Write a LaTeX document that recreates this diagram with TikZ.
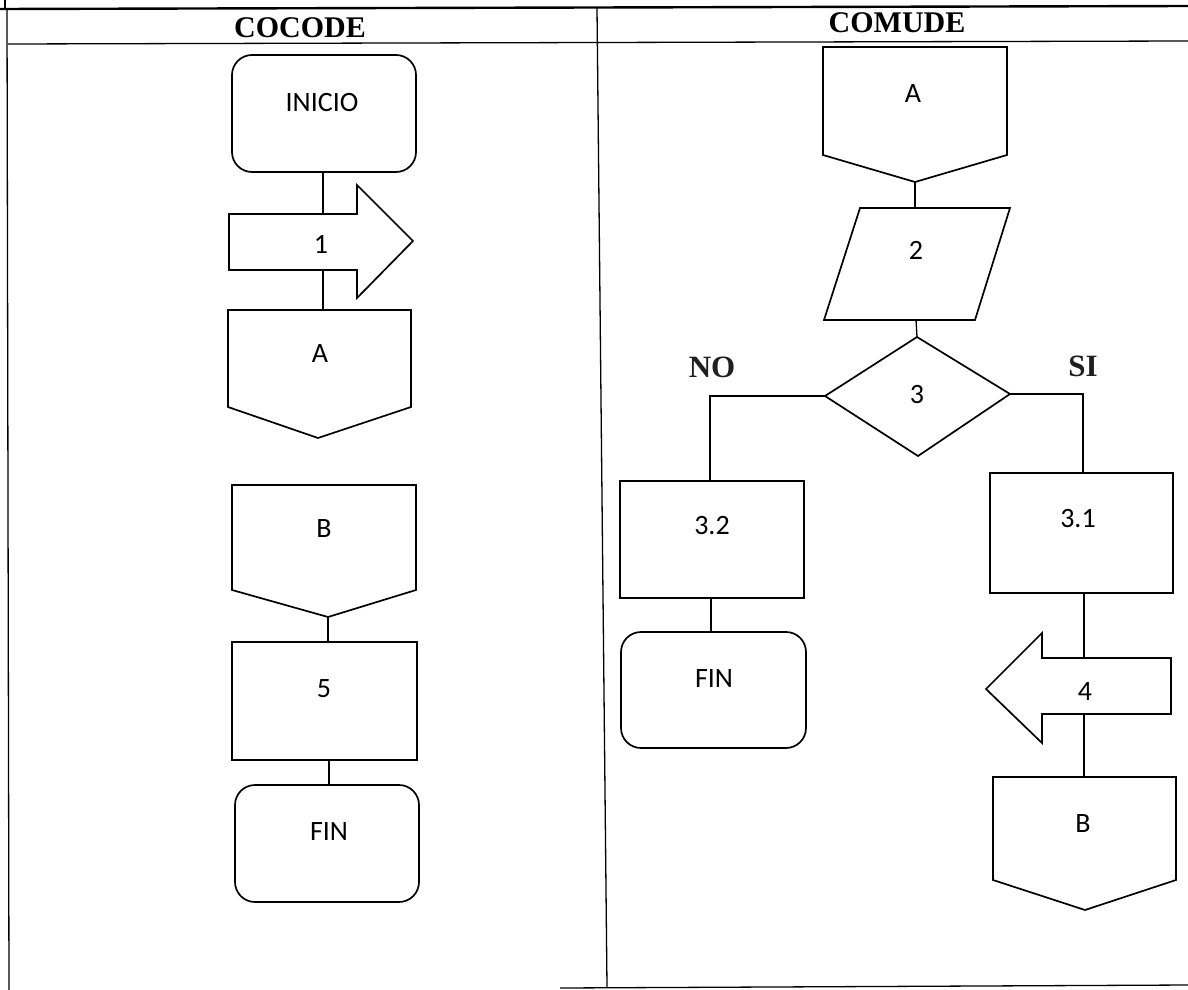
\documentclass[tikz,border=0pt]{standalone}
\usepackage{fontspec}
\setmainfont{Liberation Serif}
\newfontfamily\boxfont{Carlito}
\begin{document}
\begin{tikzpicture}[x=1pt,y=-1pt,
  shp/.style={draw, line width=1.7pt, line join=miter},
  rshp/.style={draw, line width=1.7pt, rounded corners=20pt},
  conn/.style={draw, line width=1.3pt},
  frame/.style={draw, line width=1.3pt},
  lbl/.style={font=\boxfont\fontsize{28}{32}\selectfont, inner sep=0pt},
  head/.style={font=\bfseries\fontsize{30}{34}\selectfont, inner sep=0pt},
  yn/.style={font=\bfseries\fontsize{31}{34}\selectfont, inner sep=0pt, text=black!88},
]
\useasboundingbox (0,0) rectangle (1188,990);
% ---- table frame ----
\draw[line width=2.4pt] (0,9) -- (1188,6);
\draw[frame] (5,0) -- (5,9);
\draw[frame] (7,9) -- (9,990);
\draw[frame] (8,44) -- (1188,41);
\draw[frame] (597,8) -- (607,987);
\draw[frame] (560,988) -- (1188,985);
\node[head] (h1) at (300,28) {COCODE};
\node[head] (h2) at (897,23) {COMUDE};

% ---- COCODE column ----
\draw[rshp] (232,55) rectangle (416,172);
\node[lbl] (inicio) at (322,103) {INICIO};
\coordinate (inicioS) at (323,172);

\draw[shp] (229,214) -- (357,214) -- (357,185) -- (413,241) -- (357,298) -- (357,270) -- (229,270) -- cycle;
\node[lbl] (one) at (321,244) {1};
\coordinate (oneN) at (323,214);
\coordinate (oneS) at (323,270);

\draw[shp] (228,310) -- (411,310) -- (411,407) -- (318,438) -- (228,407) -- cycle;
\node[lbl] (aL) at (320,354) {A};
\coordinate (aLN) at (323,310);

\draw[shp] (232,485) -- (416,485) -- (416,590) -- (328,617) -- (232,590) -- cycle;
\node[lbl] (bL) at (324,529) {B};
\coordinate (bLS) at (328,617);

\draw[shp] (232,642) rectangle (417,760);
\node[lbl] (five) at (324,689) {5};
\coordinate (fiveN) at (328,642);
\coordinate (fiveS) at (329,760);

\draw[rshp] (235,785) rectangle (419,902);
\node[lbl] (finL) at (329,832) {FIN};
\coordinate (finLN) at (329,785);

\draw[conn] (inicioS) -- (oneN);
\draw[conn] (oneS) -- (aLN);
\draw[conn] (bLS) -- (fiveN);
\draw[conn] (fiveS) -- (finLN);

% ---- COMUDE column ----
\draw[shp] (823,47) -- (1007,47) -- (1007,155) -- (915,182) -- (823,155) -- cycle;
\node[lbl] (aR) at (913,94) {A};
\coordinate (aRS) at (915,182);

\draw[shp] (860,208) -- (1010,208) -- (975,320) -- (824,320) -- cycle;
\node[lbl] (two) at (916,250) {2};
\coordinate (twoN) at (915,208);
\coordinate (twoS) at (916,320);

\draw[shp] (917,337) -- (1010,394) -- (918,456) -- (825,396) -- cycle;
\node[lbl] (three) at (917,395) {3};
\coordinate (threeN) at (917,337);
\coordinate (threeW) at (825,396);
\coordinate (threeE) at (1010,394);

\node[yn] (no) at (712,367) {NO};
\node[yn] (si) at (1083,366) {SI};

\draw[shp] (620,481) rectangle (804,598);
\node[lbl] (t32) at (712,526) {3.2};
\coordinate (t32N) at (710,481);
\coordinate (t32S) at (711,598);

\draw[rshp] (621,632) rectangle (806,748);
\node[lbl] (finR) at (714,679) {FIN};
\coordinate (finRN) at (711,632);

\draw[shp] (990,473) rectangle (1173,593);
\node[lbl] (t31) at (1078,519) {3.1};
\coordinate (t31N) at (1083,473);
\coordinate (t31S) at (1084,593);

\draw[shp] (1171,658) -- (1042,658) -- (1042,633) -- (986,689) -- (1042,743) -- (1042,714) -- (1171,714) -- cycle;
\node[lbl] (four) at (1085,692) {4};
\coordinate (fourN) at (1084,658);
\coordinate (fourS) at (1084,714);

\draw[shp] (993,777) -- (1176,777) -- (1176,880) -- (1085,910) -- (993,880) -- cycle;
\node[lbl] (bR) at (1083,824) {B};
\coordinate (bRN) at (1084,777);

\draw[conn] (aRS) -- (twoN);
\draw[conn] (twoS) -- (threeN);
\draw[conn] (threeW) -| (t32N);
\draw[conn] (threeE) -| (t31N);
\draw[conn] (t32S) -- (finRN);
\draw[conn] (t31S) -- (fourN);
\draw[conn] (fourS) -- (bRN);
\end{tikzpicture}
\end{document}
